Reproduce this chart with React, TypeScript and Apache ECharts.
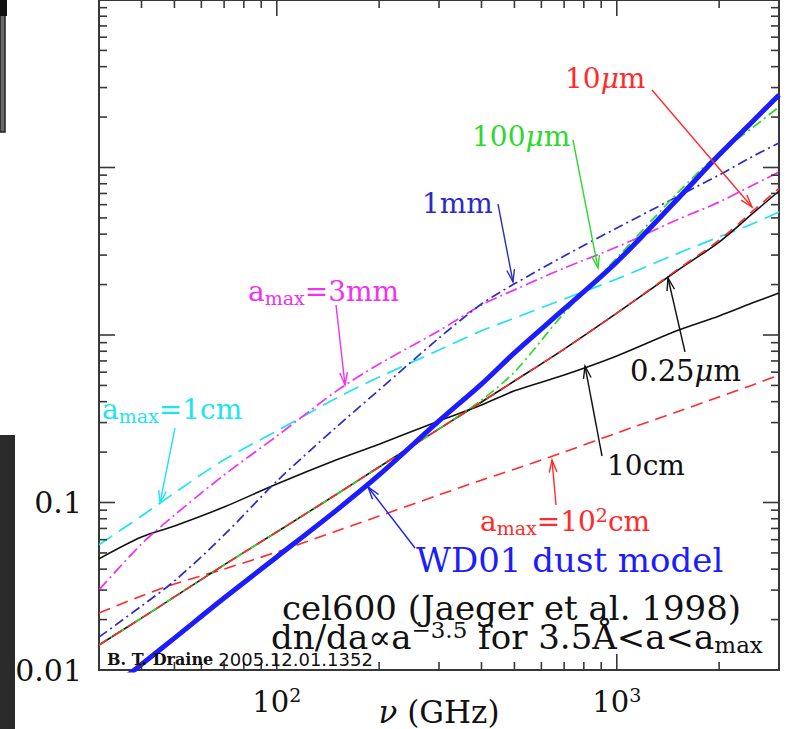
import React, { useEffect, useRef } from 'react';
import * as echarts from 'echarts';

const SERIF = "'DejaVu Serif', serif";
const SANS = "'DejaVu Sans', sans-serif";

// Frequency grid (GHz) shared by all curves
const freqGHz = [30, 40, 50, 70, 100, 150, 200, 300, 400, 500, 700, 1000, 1500, 2000, 2500, 3000];

// WD01 dust model
const wd01 = [0.0068, 0.0108, 0.0155, 0.0269, 0.0473, 0.0901, 0.146, 0.307, 0.509, 0.782, 1.43, 2.73, 6.40, 11.9, 18.7, 27.1];
// cel600 with dn/da ∝ a^-3.5, for several a_max
const amax025um = [0.0141, 0.0204, 0.0273, 0.0424, 0.0667, 0.112, 0.163, 0.275, 0.398, 0.531, 0.824, 1.35, 2.41, 3.59, 5.28, 7.24];
const amax10um = [0.0141, 0.0204, 0.0273, 0.0424, 0.0667, 0.112, 0.163, 0.275, 0.398, 0.531, 0.824, 1.35, 2.44, 3.68, 5.45, 7.50];
const amax100um = [0.0141, 0.0204, 0.0273, 0.0424, 0.0667, 0.112, 0.163, 0.275, 0.409, 0.601, 1.35, 2.88, 6.95, 12.2, 17.2, 23.0];
const amax1mm = [0.0157, 0.0241, 0.0340, 0.0640, 0.134, 0.283, 0.470, 0.959, 1.53, 2.02, 2.96, 4.35, 6.67, 9.02, 11.6, 14.0];
const amax3mm = [0.0301, 0.0565, 0.0841, 0.146, 0.249, 0.464, 0.671, 1.06, 1.51, 1.86, 2.51, 3.35, 4.86, 6.22, 7.81, 9.40];
const amax1cm = [0.056, 0.083, 0.114, 0.180, 0.267, 0.421, 0.561, 0.813, 1.06, 1.26, 1.64, 2.16, 3.05, 3.85, 4.60, 5.42];
const amax10cm = [0.0461, 0.0622, 0.0724, 0.0940, 0.129, 0.180, 0.223, 0.307, 0.382, 0.464, 0.577, 0.750, 1.06, 1.30, 1.55, 1.78];
const amax100cm = [0.0219, 0.0277, 0.0326, 0.0401, 0.0506, 0.0676, 0.0830, 0.111, 0.136, 0.158, 0.200, 0.260, 0.347, 0.427, 0.502, 0.577];

// Axis ticks
const xMajorTicks = [100, 1000];
const xMinorTicks = [40, 50, 60, 70, 80, 90, 200, 300, 400, 500, 600, 700, 800, 900, 2000];
const yMajorTicks = [0.1, 1, 10];
const yMinorTicks = [
  0.02, 0.03, 0.04, 0.05, 0.06, 0.07, 0.08, 0.09,
  0.2, 0.3, 0.4, 0.5, 0.6, 0.7, 0.8, 0.9,
  2, 3, 4, 5, 6, 7, 8, 9,
  20, 30, 40, 50, 60, 70, 80, 90,
];
const xLabelExponents = [2, 3];
const yTickLabels = ['0.01', '0.1'];

const BLACK = '#111111';
const RED = '#ff2a2a';
const GREEN = '#2ed82e';
const NAVY = '#2b2bc8';
const MAGENTA = '#f032f0';
const CYAN = '#1ee3f0';
const BLUE = '#1c1cff';
const AXIS = '#383838';

const pairs = (vals: number[]) => freqGHz.map((f, i) => [f, vals[i]]);

function lineSeries(name: string, vals: number[], color: string, width: number, type: any) {
  return {
    name,
    type: 'line',
    data: pairs(vals),
    showSymbol: false,
    smooth: 0.3,
    clip: true,
    silent: true,
    lineStyle: { color, width, type },
  };
}

function arrow(x1: number, y1: number, x2: number, y2: number, color: string) {
  const ang = Math.atan2(y2 - y1, x2 - x1);
  const L = 13;
  const a = 0.3;
  const p1 = [x2 - L * Math.cos(ang - a), y2 - L * Math.sin(ang - a)];
  const p2 = [x2 - L * Math.cos(ang + a), y2 - L * Math.sin(ang + a)];
  return [
    { type: 'line', z: 100, silent: true, shape: { x1, y1, x2, y2 }, style: { stroke: color, lineWidth: 1.4 } },
    { type: 'polyline', z: 100, silent: true, shape: { points: [p1, [x2, y2], p2] }, style: { stroke: color, lineWidth: 1.4, fill: null } },
  ];
}

// Rich styles: main run, italic run, subscript (dropped) and superscript (raised)
function annRich(size: number, lh: number, drop: number, rise: number) {
  const small = Math.round(size * 0.68);
  return {
    n: { fontFamily: SERIF, fontSize: size, lineHeight: lh },
    i: { fontFamily: SERIF, fontSize: size, fontStyle: 'italic', lineHeight: lh },
    sub: { fontFamily: SERIF, fontSize: small, lineHeight: lh - 2 * drop, verticalAlign: 'bottom' },
    sup: { fontFamily: SERIF, fontSize: small, lineHeight: lh - 2 * rise, verticalAlign: 'top' },
  };
}

function label(text: string, x: number, y: number, color: string, size = 28, lh = 32, drop = 11, rise = 8) {
  return {
    type: 'text',
    z: 100,
    silent: true,
    x,
    y,
    style: {
      text,
      rich: annRich(size, lh, drop, rise),
      fontFamily: SERIF,
      fontSize: size,
      fill: color,
      align: 'left',
      verticalAlign: 'middle',
      textAlign: 'left',
      textVerticalAlign: 'middle',
    },
  };
}

export default function App() {
  const ref = useRef<HTMLDivElement>(null);

  useEffect(() => {
    if (!ref.current) return;
    const chart = echarts.init(ref.current, undefined, { renderer: 'svg' });

    const tickData: number[][] = [];
    xMinorTicks.forEach((v) => tickData.push([v, 1, 0]));
    xMajorTicks.forEach((v) => tickData.push([v, 1, 1]));
    yMinorTicks.forEach((v) => tickData.push([100, v, 2]));
    yMajorTicks.forEach((v) => tickData.push([100, v, 3]));

    const graphics: any[] = [
      label('{n|10}{i|μ}{n|m}', 565, 78, RED),
      ...arrow(652, 90, 752, 207, RED),
      label('{n|100}{i|μ}{n|m}', 472, 136, GREEN),
      ...arrow(573, 140, 598, 268, GREEN),
      label('{n|1mm}', 422, 203, NAVY),
      ...arrow(498, 204, 513, 282, NAVY),
      label('{n|a}{sub|max}{n|=3mm}', 248, 291, MAGENTA),
      ...arrow(336, 305, 345, 385, MAGENTA),
      label('{n|a}{sub|max}{n|=1cm}', 102, 409, CYAN),
      ...arrow(175, 428, 160, 503, CYAN),
      label('{n|0.25}{i|μ}{n|m}', 630, 371, BLACK, 29),
      ...arrow(685, 352, 668, 278, BLACK),
      label('{n|10cm}', 607, 465, BLACK),
      ...arrow(602, 456, 585, 366, BLACK),
      label('{n|a}{sub|max}{n|=10}{sup|2}{n|cm}', 480, 521, RED),
      ...arrow(556, 505, 552, 460, RED),
      label('{n|WD01 dust model}', 416, 560, BLUE, 34, 30),
      ...arrow(415, 548, 368, 487, BLUE),
      label('{n|cel600 (Jaeger et al. 1998)}', 282, 608, BLACK, 34, 28),
      label('{n|dn/da∝a}{sup|−3.5}{n| for 3.5Å<a<a}{sub|max}', 271, 637, BLACK, 34, 38, 14, 9),
      {
        type: 'text',
        z: 100,
        silent: true,
        x: 107,
        y: 659,
        style: {
          text: '{b|B. T. Draine} {d|2005.12.01.1352}',
          rich: {
            b: { fontFamily: SERIF, fontSize: 16, fontWeight: 'bold', lineHeight: 14 },
            d: { fontFamily: SANS, fontSize: 18, lineHeight: 14 },
          },
          fontFamily: SERIF,
          fontSize: 16,
          fill: BLACK,
          align: 'left',
          verticalAlign: 'middle',
          textAlign: 'left',
          textVerticalAlign: 'middle',
        },
      },
      // neighbouring panels at the left edge
      { type: 'rect', z: 100, silent: true, shape: { x: 0, y: 0, width: 5, height: 132 }, style: { fill: '#6a6a6a', stroke: '#222', lineWidth: 1.5 } },
      { type: 'rect', z: 100, silent: true, shape: { x: 0, y: 0, width: 7, height: 16 }, style: { fill: '#111' } },
      { type: 'rect', z: 100, silent: true, shape: { x: 0, y: 435, width: 15, height: 294 }, style: { fill: '#2a2a2a' } },
    ];

    chart.setOption({
      animation: false,
      grid: {
        left: 99,
        top: 0,
        width: 680,
        height: 670,
        show: true,
        borderColor: AXIS,
        borderWidth: 2,
        backgroundColor: 'transparent',
        containLabel: false,
        outerBoundsMode: 'none',
      },
      xAxis: {
        type: 'log',
        logBase: 10,
        min: 30,
        max: 3000,
        name: '{i|ν} (GHz)',
        nameLocation: 'middle',
        nameGap: 24,
        nameMoveOverlap: false,
        nameTextStyle: {
          fontFamily: SERIF,
          fontSize: 31,
          color: BLACK,
          lineHeight: 36,
          rich: {
            i: { fontFamily: SERIF, fontSize: 31, fontStyle: 'italic', color: BLACK, lineHeight: 36 },
          },
        },
        axisLine: { show: false },
        axisTick: { show: false },
        splitLine: { show: false },
        axisLabel: {
          margin: 15,
          color: BLACK,
          formatter: (v: number) => {
            const lg = Math.log10(v);
            const e = Math.round(lg);
            if (Math.abs(lg - e) > 1e-6 || !xLabelExponents.includes(e)) return '';
            return `{b|10}{s|${e}}`;
          },
          rich: {
            b: { fontFamily: SERIF, fontSize: 29, color: BLACK, lineHeight: 34 },
            s: { fontFamily: SERIF, fontSize: 19, color: BLACK, lineHeight: 27, verticalAlign: 'top' },
          },
        },
      },
      yAxis: {
        type: 'log',
        logBase: 10,
        min: 0.01,
        max: 100,
        axisLine: { show: false },
        axisTick: { show: false },
        splitLine: { show: false },
        axisLabel: {
          margin: 17,
          color: BLACK,
          fontFamily: SERIF,
          fontSize: 30,
          formatter: (v: number) => {
            const s = yTickLabels.find((t) => Math.abs(Math.log10(parseFloat(t)) - Math.log10(v)) < 1e-6);
            return s ?? '';
          },
        },
      },
      graphic: graphics,
      series: [
        {
          type: 'custom',
          coordinateSystem: 'cartesian2d',
          silent: true,
          clip: false,
          z: 5,
          encode: { x: 0, y: 1 },
          data: tickData,
          renderItem: (params: any, api: any) => {
            const kind = api.value(2);
            const cs = params.coordSys;
            const style = { stroke: AXIS, lineWidth: 1.6 };
            if (kind < 2) {
              const px = api.coord([api.value(0), 1])[0];
              const len = kind === 1 ? 16 : 8;
              return {
                type: 'group',
                children: [
                  { type: 'line', shape: { x1: px, y1: cs.y + cs.height, x2: px, y2: cs.y + cs.height - len }, style },
                  { type: 'line', shape: { x1: px, y1: cs.y, x2: px, y2: cs.y + len }, style },
                ],
              };
            }
            const py = api.coord([100, api.value(1)])[1];
            const len = kind === 3 ? 16 : 8;
            return {
              type: 'group',
              children: [
                { type: 'line', shape: { x1: cs.x, y1: py, x2: cs.x + len, y2: py }, style },
                { type: 'line', shape: { x1: cs.x + cs.width, y1: py, x2: cs.x + cs.width - len, y2: py }, style },
              ],
            };
          },
        },
        lineSeries('a_max=10^2 cm', amax100cm, RED, 1.6, [12, 7]),
        lineSeries('a_max=10 cm', amax10cm, BLACK, 1.6, 'solid'),
        lineSeries('a_max=1 cm', amax1cm, CYAN, 1.7, [16, 8]),
        lineSeries('a_max=3 mm', amax3mm, MAGENTA, 1.7, [12, 4, 2, 4]),
        lineSeries('a_max=1 mm', amax1mm, NAVY, 1.7, [10, 4, 2, 4]),
        lineSeries('a_max=0.25 μm', amax025um, BLACK, 1.6, 'solid'),
        lineSeries('a_max=100 μm', amax100um, GREEN, 1.7, [10, 4, 2, 4]),
        lineSeries('a_max=10 μm', amax10um, RED, 1.6, [10, 7]),
        lineSeries('WD01', wd01, BLUE, 5, 'solid'),
      ],
    });

    return () => chart.dispose();
  }, []);

  return (
    <div
      ref={ref}
      style={{ position: 'fixed', left: 0, top: 0, width: 798, height: 729, background: '#ffffff' }}
    />
  );
}
